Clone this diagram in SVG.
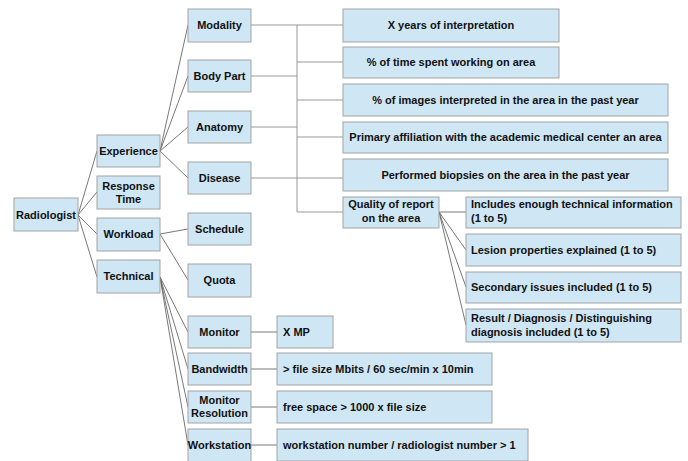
<svg xmlns="http://www.w3.org/2000/svg" width="688" height="461" viewBox="0 0 688 461">
<style>
.n rect{fill:#cfe6f4;stroke:#a3a3a3;stroke-width:1}
text{font-family:"Liberation Sans",Arial,sans-serif;font-weight:bold;font-size:11px;fill:#111}
.c{text-anchor:middle}
#connectors line{stroke:#555;stroke-width:0.8}
#connectors .g{stroke:#999;stroke-width:1}
</style>
<rect width="688" height="461" fill="#fff"/>
<g id="connectors">
<line x1="78" y1="215" x2="97" y2="151"/>
<line x1="78" y1="215" x2="97" y2="192"/>
<line x1="78" y1="215" x2="97" y2="234"/>
<line x1="78" y1="215" x2="97" y2="277"/>
<line x1="160" y1="151" x2="188" y2="25"/>
<line x1="160" y1="151" x2="188" y2="76"/>
<line x1="160" y1="151" x2="188" y2="127"/>
<line x1="160" y1="151" x2="188" y2="178"/>
<line x1="160" y1="234" x2="188" y2="229"/>
<line x1="160" y1="234" x2="188" y2="280"/>
<line x1="160" y1="277" x2="188" y2="332"/>
<line x1="160" y1="277" x2="188" y2="369"/>
<line x1="160" y1="277" x2="188" y2="407"/>
<line x1="160" y1="277" x2="188" y2="445"/>
<line class="g" x1="251" y1="25" x2="343" y2="25"/>
<line class="g" x1="251" y1="76" x2="297" y2="76"/>
<line class="g" x1="251" y1="127" x2="297" y2="127"/>
<line class="g" x1="251" y1="178" x2="343" y2="178"/>
<line class="g" x1="297" y1="25" x2="297" y2="212"/>
<line class="g" x1="297" y1="62" x2="343" y2="62"/>
<line class="g" x1="297" y1="100" x2="343" y2="100"/>
<line class="g" x1="297" y1="137" x2="343" y2="137"/>
<line class="g" x1="297" y1="212" x2="343" y2="212"/>
<line x1="439" y1="212" x2="466" y2="212"/>
<line x1="439" y1="212" x2="466" y2="250"/>
<line x1="439" y1="212" x2="466" y2="287"/>
<line x1="439" y1="212" x2="466" y2="325"/>
<line x1="251" y1="332" x2="277" y2="332"/>
<line x1="251" y1="369" x2="277" y2="369"/>
<line x1="251" y1="407" x2="277" y2="407"/>
<line x1="251" y1="445" x2="277" y2="445"/>
</g>
<g id="radiologist" class="n"><rect x="14" y="198" width="64" height="33"/><text class="c" x="46" y="219">Radiologist</text></g>
<g id="experience" class="n"><rect x="97" y="135" width="63" height="32"/><text class="c" x="128.5" y="155">Experience</text></g>
<g id="response-time" class="n"><rect x="97" y="176" width="63" height="33"/><text class="c" x="128.5" y="190">Response</text><text class="c" x="128.5" y="203">Time</text></g>
<g id="workload" class="n"><rect x="97" y="218" width="63" height="33"/><text class="c" x="128.5" y="238">Workload</text></g>
<g id="technical" class="n"><rect x="97" y="260" width="63" height="33"/><text class="c" x="128.5" y="280">Technical</text></g>
<g id="modality" class="n"><rect x="188" y="9" width="63" height="33"/><text class="c" x="219.5" y="29">Modality</text></g>
<g id="body-part" class="n"><rect x="188" y="60" width="63" height="32"/><text class="c" x="219.5" y="80">Body Part</text></g>
<g id="anatomy" class="n"><rect x="188" y="111" width="63" height="32"/><text class="c" x="219.5" y="131">Anatomy</text></g>
<g id="disease" class="n"><rect x="188" y="162" width="63" height="32"/><text class="c" x="219.5" y="182">Disease</text></g>
<g id="schedule" class="n"><rect x="188" y="213" width="63" height="32"/><text class="c" x="219.5" y="233">Schedule</text></g>
<g id="quota" class="n"><rect x="188" y="264" width="63" height="33"/><text class="c" x="219.5" y="284">Quota</text></g>
<g id="monitor" class="n"><rect x="188" y="316" width="63" height="32"/><text class="c" x="219.5" y="336">Monitor</text></g>
<g id="bandwidth" class="n"><rect x="188" y="353" width="63" height="32"/><text class="c" x="219.5" y="373">Bandwidth</text></g>
<g id="monitor-resolution" class="n"><rect x="188" y="391" width="63" height="32"/><text class="c" x="219.5" y="404">Monitor</text><text class="c" x="219.5" y="417">Resolution</text></g>
<g id="workstation" class="n"><rect x="188" y="429" width="63" height="34"/><text class="c" x="219.5" y="449">Workstation</text></g>
<g id="x-years" class="n"><rect x="343" y="9" width="216" height="33"/><text class="c" x="451" y="29">X years of interpretation</text></g>
<g id="pct-time" class="n"><rect x="343" y="47" width="216" height="31"/><text class="c" x="451" y="66">% of time spent working on area</text></g>
<g id="pct-images" class="n"><rect x="343" y="84" width="325" height="32"/><text class="c" x="505.5" y="104">% of images interpreted in the area in the past year</text></g>
<g id="primary" class="n"><rect x="343" y="122" width="325" height="31"/><text class="c" x="505.5" y="141">Primary affiliation with the academic medical center an area</text></g>
<g id="biopsies" class="n"><rect x="343" y="159" width="325" height="32"/><text class="c" x="505.5" y="179">Performed biopsies on the area in the past year</text></g>
<g id="quality" class="n"><rect x="343" y="197" width="96" height="31"/><text class="c" x="391" y="208">Quality of report</text><text class="c" x="391" y="222">on the area</text></g>
<g id="includes" class="n"><rect x="466" y="197" width="215" height="31"/><text x="471" y="208">Includes enough technical information</text><text x="471" y="222">(1 to 5)</text></g>
<g id="lesion" class="n"><rect x="466" y="234" width="215" height="32"/><text x="471" y="254">Lesion properties explained (1 to 5)</text></g>
<g id="secondary" class="n"><rect x="466" y="272" width="215" height="31"/><text x="471" y="291">Secondary issues included (1 to 5)</text></g>
<g id="result" class="n"><rect x="466" y="309" width="215" height="33"/><text x="471" y="322">Result / Diagnosis / Distinguishing</text><text x="471" y="336">diagnosis included (1 to 5)</text></g>
<g id="x-mp" class="n"><rect x="277" y="316" width="56" height="32"/><text x="283" y="336">X MP</text></g>
<g id="file-size" class="n"><rect x="277" y="353" width="215" height="32"/><text x="283" y="373">&gt; file size Mbits / 60 sec/min x 10min</text></g>
<g id="free-space" class="n"><rect x="277" y="391" width="215" height="32"/><text x="283" y="411">free space &gt; 1000 x file size</text></g>
<g id="ws-number" class="n"><rect x="277" y="429" width="251" height="32"/><text x="283" y="449">workstation number / radiologist number &gt; 1</text></g>
</svg>
